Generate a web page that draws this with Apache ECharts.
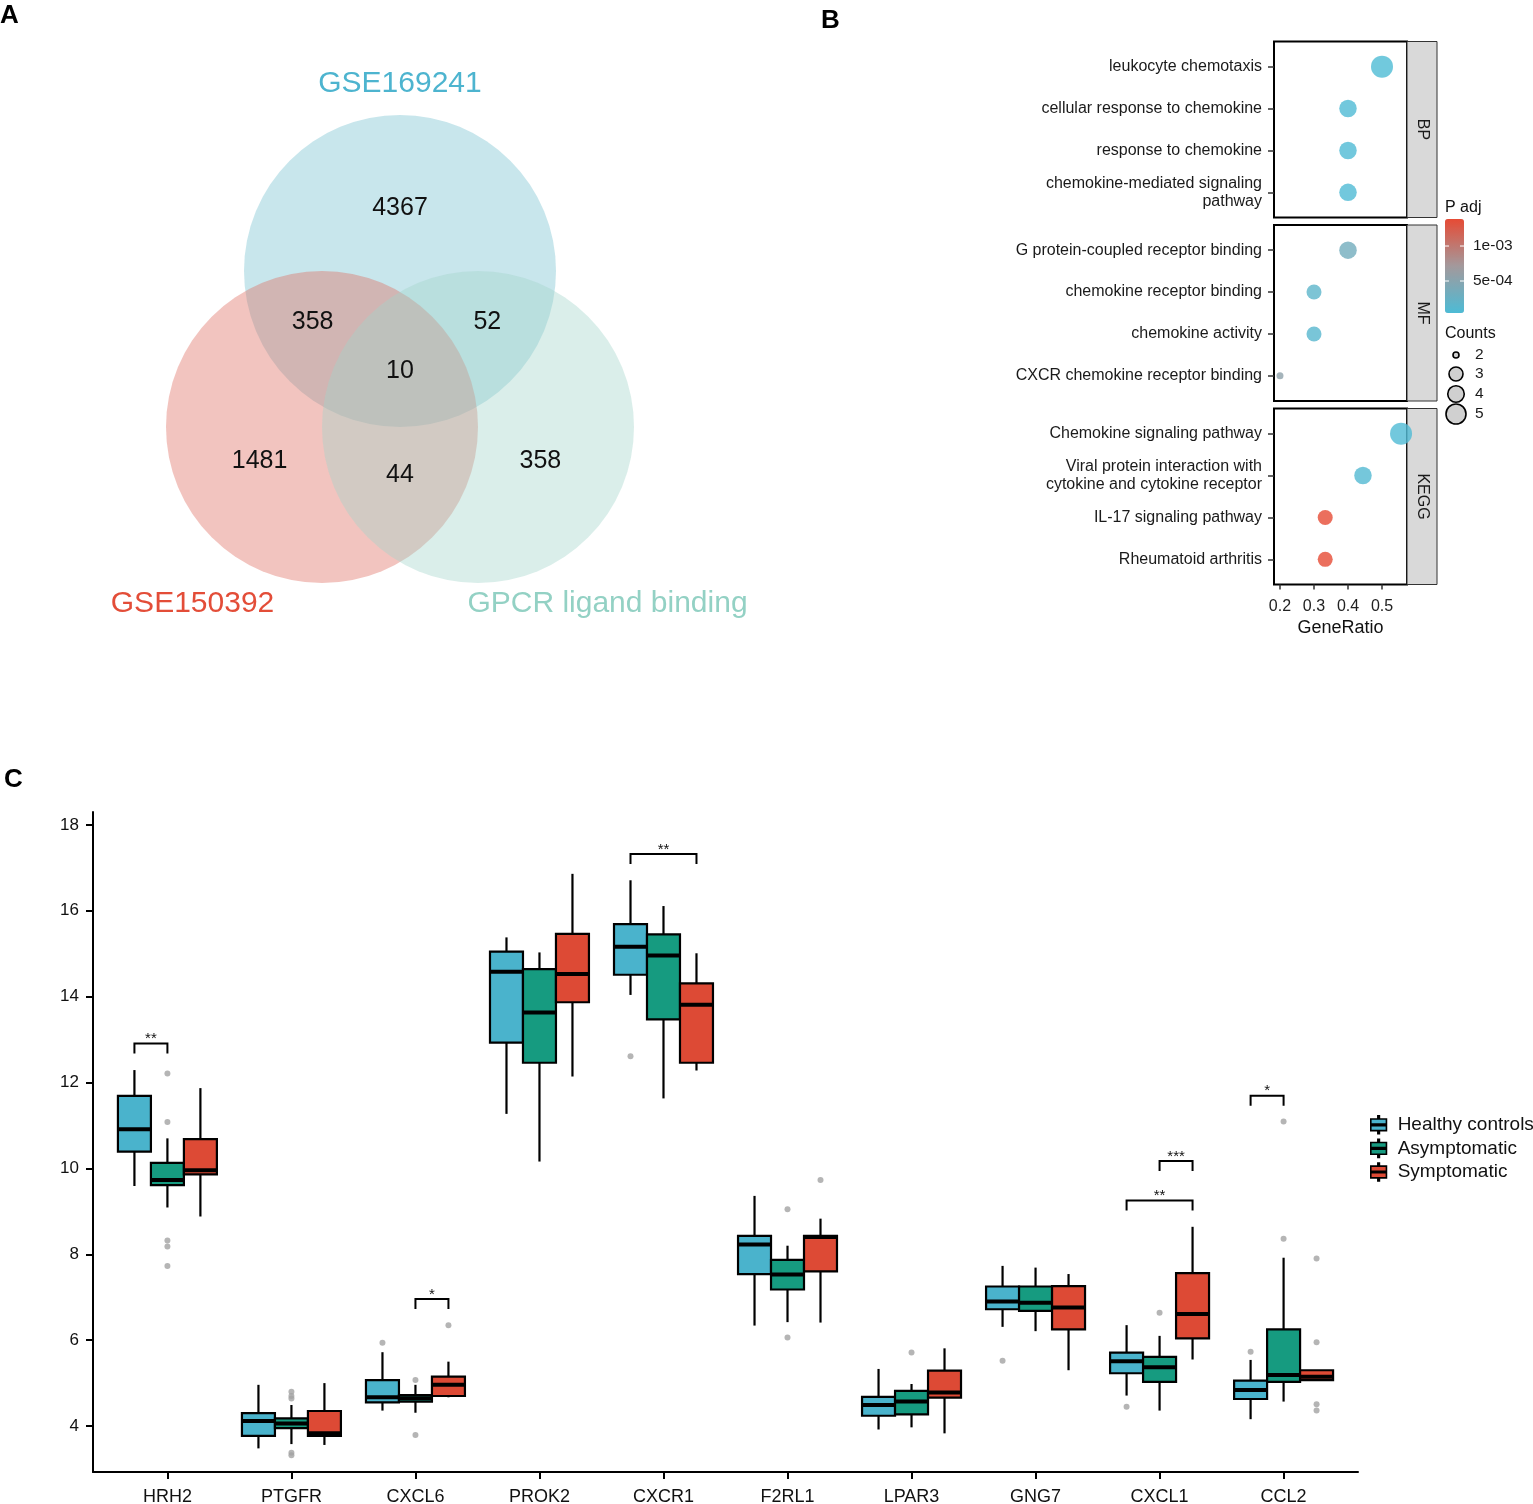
<!DOCTYPE html>
<html>
<head>
<meta charset="utf-8">
<script src="https://cdn.jsdelivr.net/npm/echarts@6/dist/echarts.min.js"></script>
<style>html,body{margin:0;padding:0;background:#fff}#c{width:1533px;height:1504px}</style>
</head>
<body>
<div id="c"></div>
<script>
// ---------------- DATA ----------------
// Panel A: Venn
const vennSetNames = ['GSE169241', 'GSE150392', 'GPCR ligand binding'];
const vennRegionNames = ['GSE169241 only', 'GSE169241 & GSE150392', 'GSE169241 & GPCR', 'All three', 'GSE150392 only', 'GSE150392 & GPCR', 'GPCR only'];
const vennRegionCounts = [4367, 358, 52, 10, 1481, 44, 358];

// Panel B: enrichment dot plot
const bpTerms = ['leukocyte chemotaxis', 'cellular response to chemokine', 'response to chemokine', 'chemokine-mediated signaling\npathway'];
const bpRatio = [0.5, 0.4, 0.4, 0.4];
const bpCount = [5, 4, 4, 4];
const bpPadj = [4.5e-5, 6e-5, 6e-5, 6e-5];
const mfTerms = ['G protein-coupled receptor binding', 'chemokine receptor binding', 'chemokine activity', 'CXCR chemokine receptor binding'];
const mfRatio = [0.4, 0.3, 0.3, 0.2];
const mfCount = [4, 3, 3, 2];
const mfPadj = [3.3e-4, 1.6e-4, 1.2e-4, 5.5e-4];
const keggTerms = ['Chemokine signaling pathway', 'Viral protein interaction with\ncytokine and cytokine receptor', 'IL-17 signaling pathway', 'Rheumatoid arthritis'];
const keggRatio = [0.556, 0.444, 0.333, 0.333];
const keggCount = [5, 4, 3, 3];
const keggPadj = [6e-5, 8e-5, 1.386e-3, 1.386e-3];
const facetNames = ['BP', 'MF', 'KEGG'];
const ratioTicks = [0.2, 0.3, 0.4, 0.5];
const padjTicks = [1e-3, 5e-4];
const padjTickLabels = ['1e-03', '5e-04'];
const countLegend = [2, 3, 4, 5];

// Panel C: boxplots [lower whisker, Q1, median, Q3, upper whisker]
const genes = ['HRH2', 'PTGFR', 'CXCL6', 'PROK2', 'CXCR1', 'F2RL1', 'LPAR3', 'GNG7', 'CXCL1', 'CCL2'];
const groupNames = ['Healthy controls', 'Asymptomatic', 'Symptomatic'];
const healthyStats = [
  [9.59, 10.39, 10.91, 11.69, 12.29], [3.48, 3.77, 4.12, 4.30, 4.96], [4.36, 4.55, 4.67, 5.07, 5.72],
  [11.27, 12.93, 14.58, 15.05, 15.38], [14.04, 14.51, 15.16, 15.69, 16.71], [6.34, 7.54, 8.23, 8.43, 9.36],
  [3.92, 4.24, 4.49, 4.68, 5.33], [6.31, 6.72, 6.90, 7.25, 7.73], [4.71, 5.23, 5.51, 5.71, 6.35],
  [4.16, 4.63, 4.84, 5.06, 5.54]
];
const asymptomaticStats = [
  [9.09, 9.61, 9.73, 10.13, 10.70], [3.58, 3.95, 4.06, 4.18, 4.49], [4.31, 4.57, 4.65, 4.72, 4.96],
  [10.16, 12.46, 13.63, 14.64, 15.03], [11.63, 13.47, 14.96, 15.45, 16.11], [6.42, 7.18, 7.53, 7.87, 8.20],
  [3.97, 4.27, 4.57, 4.82, 4.98], [6.21, 6.68, 6.87, 7.25, 7.69], [4.36, 5.03, 5.37, 5.61, 6.10],
  [4.57, 5.03, 5.19, 6.25, 7.92]
];
const symptomaticStats = [
  [8.88, 9.86, 9.96, 10.68, 11.87], [3.56, 3.77, 3.83, 4.35, 5.00], [4.67, 4.70, 4.96, 5.15, 5.50],
  [12.14, 13.87, 14.53, 15.46, 16.86], [12.28, 12.46, 13.81, 14.31, 15.01], [6.41, 7.60, 8.40, 8.43, 8.83],
  [3.83, 4.66, 4.78, 5.29, 5.81], [5.30, 6.25, 6.76, 7.26, 7.54], [5.55, 6.04, 6.61, 7.56, 8.64],
  [5.07, 5.07, 5.15, 5.30, 5.30]
];
const healthyOutliers = [['CXCL6', 5.94], ['CXCR1', 12.61], ['GNG7', 5.52], ['CXCL1', 4.45], ['CCL2', 5.73]];
const asymptomaticOutliers = [
  ['HRH2', 12.21], ['HRH2', 11.08], ['HRH2', 8.32], ['HRH2', 8.18], ['HRH2', 7.73],
  ['PTGFR', 4.80], ['PTGFR', 4.70], ['PTGFR', 4.64], ['PTGFR', 3.38], ['PTGFR', 3.32],
  ['CXCL6', 5.07], ['CXCL6', 3.79], ['F2RL1', 9.05], ['F2RL1', 6.06], ['LPAR3', 5.71],
  ['CXCL1', 6.64], ['CCL2', 11.09], ['CCL2', 8.36]
];
const symptomaticOutliers = [['CXCL6', 6.35], ['F2RL1', 9.73], ['CCL2', 7.90], ['CCL2', 5.95], ['CCL2', 4.51], ['CCL2', 4.36]];
// [gene, group from, group to, bracket height, label]
const sigBrackets = [
  ['HRH2', 0, 1, 12.91, '**'], ['CXCL6', 1, 2, 6.96, '*'], ['CXCR1', 0, 2, 17.32, '**'],
  ['CXCL1', 1, 2, 10.17, '***'], ['CXCL1', 0, 2, 9.25, '**'], ['CCL2', 0, 1, 11.69, '*']
];
const exprTicks = [4, 6, 8, 10, 12, 14, 16, 18];

// ---------------- STYLE / LAYOUT ----------------
const FONT = 'Liberation Sans, Arial, Helvetica, sans-serif';
const vennFill = ['rgba(118,193,208,0.4)', 'rgba(222,108,95,0.4)', 'rgba(163,213,203,0.4)'];
const vennTextColor = ['#4DB4CF', '#E34D38', '#93D1C4'];
// geometry in circle-radius units
const vennCenters = [[0, 1], [-0.5, 0], [0.5, 0]];
const vennRegionPos = [[0, 1.40], [-0.56, 0.67], [0.56, 0.67], [0, 0.36], [-0.90, -0.22], [0, -0.31], [0.90, -0.22]];
const vennNamePos = [[0, 2.20], [-1.33, -1.13], [1.33, -1.13]];

const groupColors = ['#4AB3CC', '#169B80', '#DD4A35'];
const groupOffset = 0.266; // category units
const boxWidth = 0.266;
const padjMin = 4.3e-5, padjMax = 1.386e-3;
const dotSize = { 2: 7, 3: 15, 4: 17.5, 5: 22 };
const legendDotSize = { 2: 6, 3: 14, 4: 16.5, 5: 20 };

const facetTops = [41.5, 225, 408.5];
const facetH = 176;
const facetLeft = 1274, facetW = 133;
const cbar = { left: 1445, top: 219, w: 19, h: 94 };
const LBL = 16;

// ---------------- BUILD ----------------
const chart = echarts.init(document.getElementById('c'), null, { renderer: 'canvas' });

const grids = [
  { left: 10, top: 21.4, width: 780, height: 639.6, show: false, outerBoundsMode: 'none', containLabel: false }
];
const xAxes = [{ gridIndex: 0, type: 'value', min: -2.5, max: 2.5, show: false }];
const yAxes = [{ gridIndex: 0, type: 'value', min: -1.5, max: 2.6, show: false }];
const series = [];

// Venn circles
series.push({
  type: 'custom', xAxisIndex: 0, yAxisIndex: 0, silent: true,
  data: vennSetNames.map((n, i) => [vennCenters[i][0], vennCenters[i][1], 1, i]),
  renderItem: (p, api) => {
    const c = api.coord([api.value(0), api.value(1)]);
    const r = api.size([api.value(2), 0])[0];
    return { type: 'circle', shape: { cx: c[0], cy: c[1], r: r }, style: { fill: vennFill[api.value(3)] } };
  }
});
// Venn counts
series.push({
  type: 'custom', xAxisIndex: 0, yAxisIndex: 0, silent: true,
  data: vennRegionCounts.map((v, i) => [vennRegionPos[i][0], vennRegionPos[i][1], v]),
  renderItem: (p, api) => {
    const c = api.coord([api.value(0), api.value(1)]);
    return { type: 'text', x: c[0], y: c[1], style: { text: String(api.value(2)), fontSize: 25, fontFamily: FONT, fill: '#111', align: 'center', verticalAlign: 'middle' } };
  }
});
// Venn set names
series.push({
  type: 'custom', xAxisIndex: 0, yAxisIndex: 0, silent: true,
  data: vennSetNames.map((n, i) => [vennNamePos[i][0], vennNamePos[i][1], i]),
  renderItem: (p, api) => {
    const c = api.coord([api.value(0), api.value(1)]);
    const i = api.value(2);
    return { type: 'text', x: c[0], y: c[1], style: { text: vennSetNames[i], fontSize: 30, fontFamily: FONT, fill: vennTextColor[i], align: 'center', verticalAlign: 'middle' } };
  }
});

// Dot plot facets
const facets = [
  [bpTerms, bpRatio, bpCount, bpPadj],
  [mfTerms, mfRatio, mfCount, mfPadj],
  [keggTerms, keggRatio, keggCount, keggPadj]
];
const dotSeriesIdx = [];
facets.forEach((f, k) => {
  const gi = grids.length;
  const terms = f[0];
  grids.push({ left: facetLeft, top: facetTops[k], width: facetW, height: facetH, show: true, borderColor: '#000', borderWidth: 2, backgroundColor: 'transparent', outerBoundsMode: 'none', containLabel: false });
  const isBottom = k === facets.length - 1;
  xAxes.push({
    gridIndex: gi, type: 'value', min: 0.1824, max: 0.5735,
    axisLine: { show: false }, splitLine: { show: false },
    axisTick: { show: isBottom, customValues: ratioTicks, length: 5, lineStyle: { color: '#333', width: 1.5 } },
    axisLabel: { show: isBottom, customValues: ratioTicks, formatter: v => v.toFixed(1), fontSize: LBL, fontFamily: FONT, color: '#222', margin: 14 },
    name: isBottom ? 'GeneRatio' : '', nameLocation: 'middle', nameGap: 35,
    nameTextStyle: { fontSize: 18, fontFamily: FONT, color: '#111' }
  });
  const idx = terms.map((t, i) => i + 1);
  yAxes.push({
    gridIndex: gi, type: 'value', min: 0.4, max: 4.6, inverse: true,
    axisLine: { show: false }, splitLine: { show: false },
    axisTick: { show: true, customValues: idx, length: 6, lineStyle: { color: '#333', width: 1.5 } },
    axisLabel: { customValues: idx, formatter: v => terms[Math.round(v) - 1] || '', fontSize: LBL, fontFamily: FONT, color: '#1a1a1a', margin: 12, lineHeight: 17.5, align: 'right' }
  });
  dotSeriesIdx.push(series.length);
  series.push({
    type: 'scatter', xAxisIndex: gi, yAxisIndex: gi, clip: true, name: facetNames[k],
    data: terms.map((t, i) => [f[1][i], i + 1, f[2][i], f[3][i]]),
    symbolSize: v => dotSize[v[2]]
  });
});

// Boxplot
const gb = grids.length;
grids.push({ left: 93, top: 812, width: 1265, height: 660, show: false, outerBoundsMode: 'none', containLabel: false });
xAxes.push({
  gridIndex: gb, type: 'value', min: 0.4, max: 10.6,
  splitLine: { show: false },
  axisLine: { show: true, lineStyle: { color: '#000', width: 2 } },
  axisTick: { show: true, customValues: genes.map((g, i) => i + 1), length: 7, lineStyle: { color: '#000', width: 2 } },
  axisLabel: { customValues: genes.map((g, i) => i + 1), formatter: v => genes[Math.round(v) - 1] || '', fontSize: 18, fontFamily: FONT, color: '#111', margin: 16 }
});
yAxes.push({
  gridIndex: gb, type: 'value', min: 2.93, max: 18.3,
  splitLine: { show: false },
  axisLine: { show: true, lineStyle: { color: '#000', width: 2 } },
  axisTick: { show: true, customValues: exprTicks, length: 7, lineStyle: { color: '#000', width: 2 } },
  axisLabel: { customValues: exprTicks, fontSize: 17, fontFamily: FONT, color: '#111', margin: 14 }
});
const xPos = (gene, g) => genes.indexOf(gene) + 1 + (g - 1) * groupOffset;

const allStats = [healthyStats, asymptomaticStats, symptomaticStats];
const allOutliers = [healthyOutliers, asymptomaticOutliers, symptomaticOutliers];
allStats.forEach((stats, g) => {
  series.push({
    type: 'custom', name: groupNames[g], xAxisIndex: gb, yAxisIndex: gb,
    itemStyle: { color: groupColors[g] },
    data: stats.map((s, i) => [xPos(genes[i], g)].concat(s)),
    renderItem: (p, api) => {
      const x = api.value(0);
      const lo = api.coord([x, api.value(1)]);
      const q1 = api.coord([x, api.value(2)]);
      const md = api.coord([x, api.value(3)]);
      const q3 = api.coord([x, api.value(4)]);
      const hi = api.coord([x, api.value(5)]);
      const w = api.size([boxWidth, 0])[0];
      const cx = lo[0];
      const ln = { stroke: '#000', lineWidth: 2.2 };
      return {
        type: 'group', children: [
          { type: 'line', shape: { x1: cx, y1: hi[1], x2: cx, y2: q3[1] }, style: ln },
          { type: 'line', shape: { x1: cx, y1: q1[1], x2: cx, y2: lo[1] }, style: ln },
          { type: 'rect', shape: { x: cx - w / 2, y: q3[1], width: w, height: q1[1] - q3[1] }, style: { fill: groupColors[g], stroke: '#000', lineWidth: 2.2 } },
          { type: 'line', shape: { x1: cx - w / 2, y1: md[1], x2: cx + w / 2, y2: md[1] }, style: { stroke: '#000', lineWidth: 4 } }
        ]
      };
    }
  });
});
series.push({
  type: 'scatter', xAxisIndex: gb, yAxisIndex: gb, silent: true,
  symbolSize: 6, itemStyle: { color: '#a3a3a3' },
  data: [].concat(...allOutliers.map((arr, g) => arr.map(o => [xPos(o[0], g), o[1]])))
});
series.push({
  type: 'custom', xAxisIndex: gb, yAxisIndex: gb, silent: true,
  data: sigBrackets.map((b, i) => [xPos(b[0], b[1]), xPos(b[0], b[2]), b[3], i]),
  renderItem: (p, api) => {
    const a = api.coord([api.value(0), api.value(2)]);
    const b = api.coord([api.value(1), api.value(2)]);
    const drop = 10;
    return {
      type: 'group', children: [
        { type: 'polyline', shape: { points: [[a[0], a[1] + drop], a, b, [b[0], b[1] + drop]] }, style: { stroke: '#000', lineWidth: 2, fill: null } },
        { type: 'text', x: (a[0] + b[0]) / 2, y: a[1] + 3, style: { text: sigBrackets[api.value(3)][4], fontSize: 15, fontFamily: FONT, fill: '#111', align: 'center', verticalAlign: 'bottom' } }
      ]
    };
  }
});

// ---------------- GRAPHICS (labels, strips, legend keys) ----------------
const graphics = [];
[['A', 0, 3], ['B', 821, 8], ['C', 4, 767]].forEach(l => {
  graphics.push({ type: 'text', left: l[1], top: l[2], style: { text: l[0], fontSize: 26, fontWeight: 'bold', fontFamily: FONT, fill: '#000' } });
});
facetNames.forEach((n, k) => {
  graphics.push({ type: 'rect', shape: { x: 1407, y: facetTops[k], width: 30, height: facetH }, style: { fill: '#d9d9d9', stroke: '#333', lineWidth: 1 } });
  graphics.push({ type: 'text', x: 1422, y: facetTops[k] + facetH / 2, rotation: -Math.PI / 2, style: { text: n, fontSize: LBL, fontFamily: FONT, fill: '#1a1a1a', align: 'center', verticalAlign: 'middle' } });
});
graphics.push({ type: 'text', x: 1445, y: 208, style: { text: 'P adj', fontSize: LBL, fontFamily: FONT, fill: '#111', verticalAlign: 'middle' } });
padjTicks.forEach((v, i) => {
  const y = cbar.top + (padjMax - v) / (padjMax - padjMin) * cbar.h;
  graphics.push({ type: 'line', shape: { x1: cbar.left, y1: y, x2: cbar.left + 4, y2: y }, style: { stroke: '#fff', lineWidth: 1 }, z: 100 });
  graphics.push({ type: 'line', shape: { x1: cbar.left + cbar.w - 4, y1: y, x2: cbar.left + cbar.w, y2: y }, style: { stroke: '#fff', lineWidth: 1 }, z: 100 });
  graphics.push({ type: 'text', x: cbar.left + cbar.w + 9, y: y, style: { text: padjTickLabels[i], fontSize: 15.5, fontFamily: FONT, fill: '#1a1a1a', verticalAlign: 'middle' } });
});
graphics.push({ type: 'text', x: 1445, y: 334, style: { text: 'Counts', fontSize: LBL, fontFamily: FONT, fill: '#111', verticalAlign: 'middle' } });
const countY = [355, 374, 394, 414];
countLegend.forEach((c, i) => {
  graphics.push({ type: 'circle', shape: { cx: 1456, cy: countY[i], r: legendDotSize[c] / 2 }, style: { fill: '#d0d0d0', stroke: '#000', lineWidth: 1.6 } });
  graphics.push({ type: 'text', x: 1475, y: countY[i], style: { text: String(c), fontSize: 15.5, fontFamily: FONT, fill: '#1a1a1a', verticalAlign: 'middle' } });
});

const boxIcon = 'path://M9,0L11,0L11,4L9,4Z M0,4L20,4L20,10.5L0,10.5Z M0,12.5L20,12.5L20,19L0,19Z M9,19L11,19L11,23L9,23Z';

chart.setOption({
  animation: false,
  backgroundColor: '#fff',
  textStyle: { fontFamily: FONT },
  grid: grids,
  xAxis: xAxes,
  yAxis: yAxes,
  visualMap: {
    type: 'continuous', seriesIndex: dotSeriesIdx, dimension: 3,
    min: padjMin, max: padjMax, calculable: false, hoverLink: false,
    left: cbar.left, top: cbar.top, itemWidth: cbar.w, itemHeight: cbar.h, padding: 0,
    inRange: { color: ['#4DBBD5', '#A3999C', '#E64B35'] },
    text: null, showLabel: false
  },
  legend: {
    data: groupNames.map((n, g) => ({ name: n, icon: boxIcon, itemStyle: { color: groupColors[g], borderColor: '#000', borderWidth: 1.6 } })),
    orient: 'vertical', left: 1370, top: 1115, itemWidth: 20, itemHeight: 18, itemGap: 4,
    selectedMode: false, padding: 0,
    textStyle: { fontSize: 19, fontFamily: FONT, color: '#111', padding: [0, 0, 0, 4] }
  },
  graphic: graphics,
  series: series
});
</script>
</body>
</html>
